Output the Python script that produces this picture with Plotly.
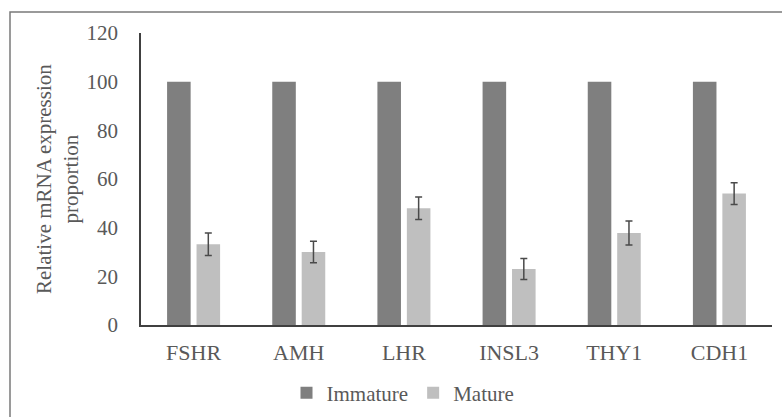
import plotly.graph_objects as go

genes = ["FSHR", "AMH", "LHR", "INSL3", "THY1", "CDH1"]
immature = [100, 100, 100, 100, 100, 100]
mature = [33.2, 30.0, 48.0, 23.0, 37.8, 54.0]
mature_err = [4.6, 4.4, 4.6, 4.3, 4.9, 4.5]
y_ticks = [0, 20, 40, 60, 80, 100, 120]

FONT = "Liberation Serif"
TXT = "#595959"

W, H = 782, 417
ML, MR, MT, MB = 141, 10, 33, 92
PW, PH = W - ML - MR, H - MT - MB

def px_to_paper_x(px):
    return (px - ML) / PW

def px_to_paper_y(py):
    return (H - MB - py) / PH

fig = go.Figure()
fig.add_trace(go.Bar(
    x=genes, y=immature, name="Immature",
    marker=dict(color="#7f7f7f", line=dict(width=0)),
))
fig.add_trace(go.Bar(
    x=genes, y=mature, name="Mature",
    marker=dict(color="#bfbfbf", line=dict(width=0)),
    error_y=dict(type="data", array=mature_err, visible=True,
                 color="#4a4a4a", thickness=1.5, width=3.5),
))

fig.update_layout(
    width=W, height=H,
    margin=dict(l=ML, r=MR, t=MT, b=MB, autoexpand=False),
    paper_bgcolor="white", plot_bgcolor="white",
    barmode="group", bargap=0.44, bargroupgap=0.2,
    font=dict(family=FONT, size=20, color=TXT),
    showlegend=True,
    legend=dict(orientation="h", x=px_to_paper_x(403), xanchor="center",
                y=px_to_paper_y(393), yanchor="middle",
                font=dict(family=FONT, size=21, color=TXT),
                itemwidth=30, tracegroupgap=0, bgcolor="rgba(0,0,0,0)"),
    xaxis=dict(showline=True, linecolor="#404040", linewidth=1.5,
               ticks="", showgrid=False, ticklabelstandoff=7,
               automargin=False,
               tickfont=dict(family=FONT, size=22, color=TXT)),
    yaxis=dict(range=[0, 120], tickvals=y_ticks, showline=True,
               linecolor="#404040", linewidth=1.5, ticks="",
               showgrid=False, zeroline=False, ticklabelstandoff=17,
               automargin=False,
               tickfont=dict(family=FONT, size=21, color=TXT)),
    annotations=[dict(
        text="Relative mRNA expression<br>proportion",
        textangle=-90, xref="paper", yref="paper",
        x=px_to_paper_x(57), y=0.5, xanchor="center", yanchor="middle",
        showarrow=False, font=dict(family=FONT, size=21, color=TXT),
    )],
    shapes=[dict(
        type="rect", xref="paper", yref="paper",
        x0=px_to_paper_x(10), x1=px_to_paper_x(800),
        y0=px_to_paper_y(430), y1=px_to_paper_y(12),
        line=dict(color="#7a7a7a", width=1.5), fillcolor="rgba(0,0,0,0)",
        layer="below",
    )],
)

fig.write_html("out.html")
